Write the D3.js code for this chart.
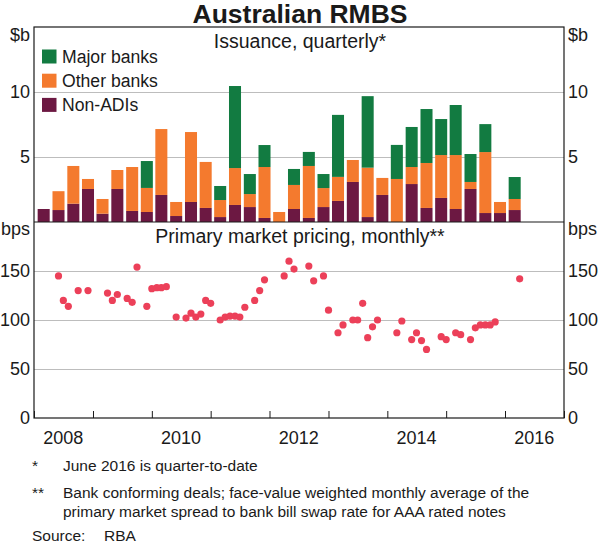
<!DOCTYPE html>
<html lang="en">
<head>
    <meta charset="UTF-8">
    <title>Australian RMBS</title>
    <style>
        html, body {
            margin: 0;
            padding: 0;
            background: white;
        }

        svg text {
            font-family: Arial, "Liberation Sans", sans-serif;
            fill: #1a1a1a;
        }
    </style>
</head>
<body>
<svg id="chart" width="600" height="543"></svg>
<script src="https://cdnjs.cloudflare.com/ajax/libs/d3/7.8.5/d3.min.js"></script>
<script>
    "use strict"

    // quarterly issuance, $b
    const quarters = [
        "2008-Q1", "2008-Q2", "2008-Q3", "2008-Q4",
        "2009-Q1", "2009-Q2", "2009-Q3", "2009-Q4",
        "2010-Q1", "2010-Q2", "2010-Q3", "2010-Q4",
        "2011-Q1", "2011-Q2", "2011-Q3", "2011-Q4",
        "2012-Q1", "2012-Q2", "2012-Q3", "2012-Q4",
        "2013-Q1", "2013-Q2", "2013-Q3", "2013-Q4",
        "2014-Q1", "2014-Q2", "2014-Q3", "2014-Q4",
        "2015-Q1", "2015-Q2", "2015-Q3", "2015-Q4",
        "2016-Q1"
    ];
    const majorBanks = [
        0, 0, 0, 0,
        0, 0, 0, 2.07,
        0, 0, 0, 0,
        1.08, 6.31, 1.54, 1.69,
        0, 1.23, 1.08, 1.08,
        4.77, 0, 5.5, 0,
        2.62, 3.08, 4.15, 2.77,
        3.85, 2.15, 2.15, 0,
        1.69
    ];
    const otherBanks = [
        0, 1.45, 2.9, 0.77,
        1.13, 1.46, 3.38, 1.85,
        5.07, 1.08, 5.38, 3.54,
        1.31, 2.84, 1.0, 3.92,
        0.77, 1.85, 4.0, 1.46,
        1.85, 1.69, 3.8, 1.31,
        3.31, 1.31, 3.46, 3.3,
        4.15, 0.54, 4.69, 0.85,
        0.85
    ];
    const nonADIs = [
        1.0, 0.92, 1.41, 2.54,
        0.64, 2.54, 0.85, 0.77,
        2.08, 0.46, 1.54, 1.08,
        0.38, 1.31, 1.15, 0.31,
        0, 1.0, 0.31, 1.15,
        1.62, 3.08, 0.38, 2.08,
        0, 2.92, 1.08, 1.85,
        1.0, 2.54, 0.69, 0.69,
        0.92
    ];

    // monthly primary market pricing, bps
    const pricingMonths = [
        "2008-05", "2008-06", "2008-07", "2008-09", "2008-11",
        "2009-03", "2009-04", "2009-05", "2009-07", "2009-08", "2009-09", "2009-11", "2009-12",
        "2010-01", "2010-02", "2010-03", "2010-05", "2010-07", "2010-08", "2010-09", "2010-10", "2010-11", "2010-12",
        "2011-02", "2011-03", "2011-04", "2011-05", "2011-06", "2011-07", "2011-09", "2011-10", "2011-11",
        "2012-03", "2012-04", "2012-05", "2012-08", "2012-09", "2012-11", "2012-12",
        "2013-02", "2013-03", "2013-05", "2013-06", "2013-07", "2013-08", "2013-09", "2013-10",
        "2014-02", "2014-03", "2014-05", "2014-06", "2014-07", "2014-08", "2014-11", "2014-12",
        "2015-02", "2015-03", "2015-05", "2015-06", "2015-07", "2015-08", "2015-09", "2015-10",
        "2016-03"
    ];
    const pricingValues = [
        145, 120, 114, 130, 130,
        127.5, 120, 126, 122, 118, 154, 114, 132,
        133, 133, 134, 103, 102, 107, 103, 106, 120, 117,
        100, 103, 104, 104, 103, 113, 120, 130, 141,
        145, 160, 152, 155, 140, 145, 110,
        87, 95, 100, 100, 117, 82, 93, 100,
        87, 99, 80, 87, 79, 70, 83, 80,
        87, 85, 80, 92, 95, 95, 95, 98,
        142
    ];

    const yearLabels = [2008, 2010, 2012, 2014, 2016];
    const issuanceTicks = [5, 10];
    const pricingTicks = [0, 50, 100, 150];

    const seriesKeys = ["nonADI", "other", "major"];
    const seriesNames = {major: "Major banks", other: "Other banks", nonADI: "Non-ADIs"};
    const colours = {major: "#127b41", other: "#f47a2e", nonADI: "#6c1842"};
    const dotColour = "#ec4059";

    document.addEventListener("DOMContentLoaded", () => {
        const svg = d3.select("#chart");

        const left = 34, right = 564;
        const top = 27, middle = 222, bottom = 418;

        const x = d3.scaleTime()
            .domain([new Date(2008, 0, 1), new Date(2017, 0, 1)])
            .range([left, right]);
        const yTop = d3.scaleLinear().domain([0, 15]).range([middle, top]);
        const yBot = d3.scaleLinear().domain([0, 200]).range([bottom, middle]);

        /* titles */
        svg.append("text")
            .attr("x", 300)
            .attr("y", 23)
            .attr("text-anchor", "middle")
            .attr("font-size", "26.5px")
            .attr("font-weight", "bold")
            .text("Australian RMBS");

        /* gridlines */
        svg.append("g")
            .attr("transform", `translate(${left},0)`)
            .call(d3.axisLeft(yTop).tickValues(issuanceTicks).tickSize(-(right - left)).tickFormat(""))
            .call(g => g.select(".domain").remove())
            .call(g => g.selectAll("line").attr("stroke", "#bdbdbd"));
        svg.append("g")
            .attr("transform", `translate(${left},0)`)
            .call(d3.axisLeft(yBot).tickValues([50, 100, 150]).tickSize(-(right - left)).tickFormat(""))
            .call(g => g.select(".domain").remove())
            .call(g => g.selectAll("line").attr("stroke", "#bdbdbd"));

        /* bars */
        const table = quarters.map((q, i) => {
            const [yr, qq] = q.split("-Q").map(Number);
            return {
                date: new Date(yr, (qq - 1) * 3 + 2, 1),
                major: majorBanks[i],
                other: otherBanks[i],
                nonADI: nonADIs[i]
            };
        });
        const stacked = d3.stack().keys(seriesKeys)(table);
        const step = x(new Date(2008, 3, 1)) - x(new Date(2008, 0, 1));
        const barW = step * 0.82;

        svg.append("g")
            .selectAll("g")
            .data(stacked)
            .enter()
            .append("g")
            .attr("fill", d => colours[d.key])
            .selectAll("rect")
            .data(d => d)
            .enter()
            .append("rect")
            .attr("x", d => x(d.data.date) - barW / 2)
            .attr("y", d => yTop(d[1]))
            .attr("width", barW)
            .attr("height", d => yTop(d[0]) - yTop(d[1]));

        /* dots, plotted at month end */
        const parseMonth = d3.timeParse("%Y-%m");
        svg.append("g")
            .selectAll("circle")
            .data(pricingMonths.map((m, i) => ({date: d3.timeMonth.offset(parseMonth(m), 1), value: pricingValues[i]})))
            .enter()
            .append("circle")
            .attr("cx", d => x(d.date))
            .attr("cy", d => yBot(d.value))
            .attr("r", 3.6)
            .attr("fill", dotColour);

        /* frame */
        svg.append("rect")
            .attr("x", left)
            .attr("y", top)
            .attr("width", right - left)
            .attr("height", bottom - top)
            .attr("fill", "none")
            .attr("stroke", "#1a1a1a")
            .attr("stroke-width", 1.2);
        svg.append("line")
            .attr("x1", left)
            .attr("x2", right)
            .attr("y1", middle)
            .attr("y2", middle)
            .attr("stroke", "#1a1a1a")
            .attr("stroke-width", 1.2);

        /* x axis: year ticks inside, labels centred on years */
        svg.append("g")
            .attr("transform", `translate(0,${bottom})`)
            .call(d3.axisBottom(x).ticks(d3.timeYear).tickSize(-7).tickFormat(""))
            .call(g => g.select(".domain").remove())
            .call(g => g.selectAll("line").attr("stroke", "#1a1a1a"));
        svg.append("g")
            .selectAll("text")
            .data(yearLabels)
            .enter()
            .append("text")
            .attr("x", d => x(new Date(d, 6, 1)))
            .attr("y", 444)
            .attr("text-anchor", "middle")
            .attr("font-size", "18px")
            .text(d => d);

        /* y axis labels both sides */
        const labelAxis = (axis, pos) => g => {
            g.attr("transform", `translate(${pos},0)`)
                .call(axis.tickSize(0).tickPadding(4))
                .call(g => g.select(".domain").remove())
                .call(g => g.selectAll("text")
                    .attr("font-size", "18px")
                    .attr("font-family", "Arial, 'Liberation Sans', sans-serif")
                    .attr("fill", "#1a1a1a"));
        };
        svg.append("g").call(labelAxis(d3.axisLeft(yTop).tickValues(issuanceTicks), left));
        svg.append("g").call(labelAxis(d3.axisRight(yTop).tickValues(issuanceTicks), right));
        svg.append("g").call(labelAxis(d3.axisLeft(yBot).tickValues(pricingTicks), left));
        svg.append("g").call(labelAxis(d3.axisRight(yBot).tickValues(pricingTicks), right));

        const units = [
            {text: "$b", y: 41},
            {text: "bps", y: 235}
        ];
        units.forEach(u => {
            svg.append("text")
                .attr("x", left - 4)
                .attr("y", u.y)
                .attr("text-anchor", "end")
                .attr("font-size", "18px")
                .text(u.text);
            svg.append("text")
                .attr("x", right + 4)
                .attr("y", u.y)
                .attr("font-size", "18px")
                .text(u.text);
        });

        /* panel titles */
        svg.append("text")
            .attr("x", 300)
            .attr("y", 48)
            .attr("text-anchor", "middle")
            .attr("font-size", "19.5px")
            .text("Issuance, quarterly*");
        svg.append("text")
            .attr("x", 300)
            .attr("y", 243)
            .attr("text-anchor", "middle")
            .attr("font-size", "19.5px")
            .text("Primary market pricing, monthly**");

        /* legend */
        const legend = svg.append("g");
        ["major", "other", "nonADI"].forEach((k, i) => {
            legend.append("rect")
                .attr("x", 42)
                .attr("y", 49.5 + i * 24.2)
                .attr("width", 14.5)
                .attr("height", 14)
                .attr("fill", colours[k]);
            legend.append("text")
                .attr("x", 62)
                .attr("y", 56.5 + i * 24.2)
                .attr("dy", "0.35em")
                .attr("font-size", "17.6px")
                .text(seriesNames[k]);
        });

        /* footnotes */
        const notes = [
            {mark: "*", lines: ["June 2016 is quarter-to-date"], y: 470.5},
            {mark: "**", lines: ["Bank conforming deals; face-value weighted monthly average of the",
                    "primary market spread to bank bill swap rate for AAA rated notes"], y: 497.5}
        ];
        notes.forEach(n => {
            svg.append("text")
                .attr("x", 32)
                .attr("y", n.y)
                .attr("font-size", "15.5px")
                .text(n.mark);
            n.lines.forEach((l, i) => {
                svg.append("text")
                    .attr("x", 63)
                    .attr("y", n.y + i * 19)
                    .attr("font-size", "15.5px")
                    .text(l);
            });
        });
        svg.append("text")
            .attr("x", 32)
            .attr("y", 541)
            .attr("font-size", "15.5px")
            .text("Source:");
        svg.append("text")
            .attr("x", 104)
            .attr("y", 541)
            .attr("font-size", "15.5px")
            .text("RBA");
    });
</script>
</body>
</html>
